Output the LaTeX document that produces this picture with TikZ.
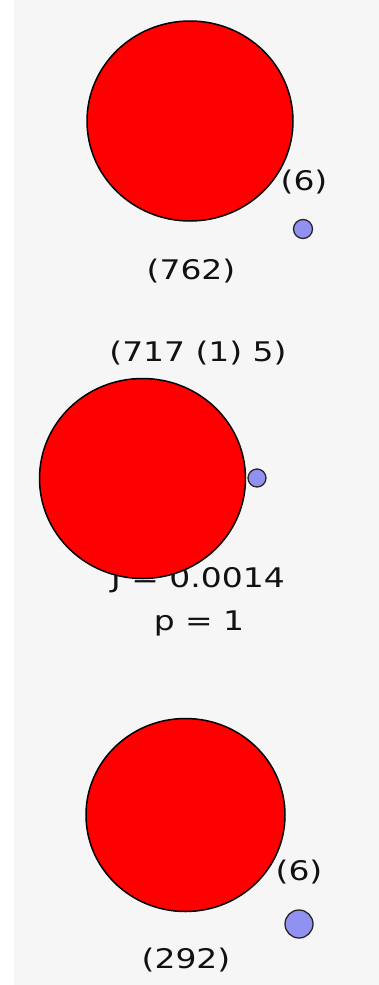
\documentclass[tikz,border=0pt]{standalone}
\usepackage{fontspec}
\usepackage{tikz}
\usetikzlibrary{shapes.geometric}
\newfontfamily\vennfont[FakeStretch=1.22]{DejaVu Sans}
\definecolor{PANELcolor}{HTML}{F7F6F7}
\definecolor{BIGcolor}{HTML}{FF0000}
\definecolor{SMALLcolor}{HTML}{9191F2}
\definecolor{TXTcolor}{HTML}{111111}

\begin{document}
\begin{tikzpicture}[x=1pt, y=-1pt,
  bigset/.style={ellipse, draw=black, line width=1.5pt, fill=BIGcolor, inner sep=0pt},
  smallset/.style={circle, draw=black!85, line width=1.3pt, fill=SMALLcolor, inner sep=0pt},
  count/.style={text=TXTcolor, inner sep=0pt, font=\vennfont\fontsize{27}{29}\selectfont}]
  \useasboundingbox (0,0) rectangle (379,985);
  \fill[white] (0,0) rectangle (14,985);
  \fill[PANELcolor] (14,0) rectangle (379,985);

  % top pair
  \node[count] (topbig) at (191,271) {(762)};
  \node[count] (topsmall) at (304,182) {(6)};
  \node[bigset, minimum width=206pt, minimum height=200pt] (topA) at (190,121) {};
  \node[smallset, minimum size=19pt] (topB) at (303,229) {};

  % middle pair
  \node[count] (midn) at (198,353) {(717 (1) 5)};
  \node[count] (midj) at (198,580) {J = 0.0014};
  \node[count] (midp) at (199,623) {p = 1};
  \node[bigset, minimum width=206pt, minimum height=200pt] (midA) at (142.5,478.5) {};
  \node[smallset, minimum size=18pt] (midB) at (257,478) {};

  % bottom pair
  \node[count] (botbig) at (186,960) {(292)};
  \node[count] (botsmall) at (299,872) {(6)};
  \node[bigset, minimum width=199pt, minimum height=193pt] (botA) at (185.5,815) {};
  \node[smallset, minimum size=28pt] (botB) at (299,924) {};
\end{tikzpicture}
\end{document}
